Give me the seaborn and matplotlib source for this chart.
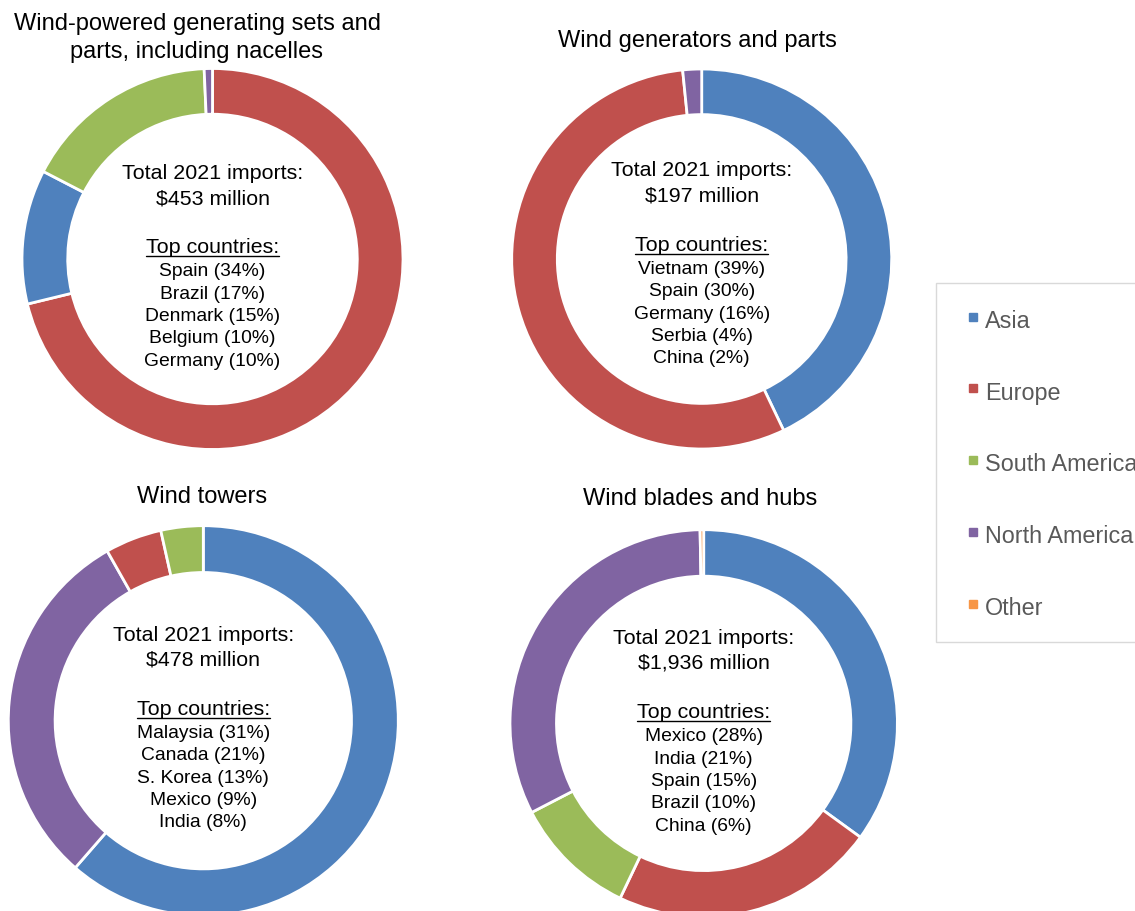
import matplotlib
matplotlib.use("Agg")
import matplotlib.pyplot as plt
import seaborn as sns
from matplotlib.lines import Line2D

# ---- data -------------------------------------------------------------
regions = ["Asia", "Europe", "South America", "North America", "Other"]
region_colors = ["#4F81BD", "#C0504D", "#9BBB59", "#8064A2", "#F79646"]

titles = [
    "Wind-powered generating sets and\nparts, including nacelles",
    "Wind generators and parts",
    "Wind towers",
    "Wind blades and hubs",
]
totals = ["$453 million", "$197 million", "$478 million", "$1,936 million"]

# regional shares (%) of 2021 imports, listed clockwise from 12 o'clock
sets_regions = ["Europe", "Asia", "South America", "North America"]
sets_shares = [71.2, 11.4, 16.7, 0.7]

generators_regions = ["Asia", "Europe", "North America"]
generators_shares = [42.9, 55.5, 1.6]

towers_regions = ["Asia", "North America", "Europe", "South America"]
towers_shares = [61.4, 30.4, 4.7, 3.5]

blades_regions = ["Asia", "Europe", "South America", "North America", "Other"]
blades_shares = [35.0, 22.1, 10.3, 32.3, 0.3]

sets_top = ["Spain (34%)", "Brazil (17%)", "Denmark (15%)",
            "Belgium (10%)", "Germany (10%)"]
generators_top = ["Vietnam (39%)", "Spain (30%)", "Germany (16%)",
                  "Serbia (4%)", "China (2%)"]
towers_top = ["Malaysia (31%)", "Canada (21%)", "S. Korea (13%)",
              "Mexico (9%)", "India (8%)"]
blades_top = ["Mexico (28%)", "India (21%)", "Spain (15%)",
              "Brazil (10%)", "China (6%)"]

# ---- style ------------------------------------------------------------
sns.set_theme(style="white")
plt.rcParams["font.family"] = ["Liberation Sans", "DejaVu Sans"]
palette = dict(zip(regions, sns.color_palette(region_colors)))

W, H = 1135, 912
fig = plt.figure(figsize=(W / 100, H / 100), dpi=100)
fig.patch.set_facecolor("white")


def fx(x):
    return x / W


def fy(y):
    return 1 - y / H


panels = [
    (sets_regions, sets_shares, sets_top),
    (generators_regions, generators_shares, generators_top),
    (towers_regions, towers_shares, towers_top),
    (blades_regions, blades_shares, blades_top),
]

# panel geometry in pixels: ring centre, outer radius, title centre, text shift
centers = [(212.5, 260.0), (701.7, 260.0), (203.3, 721.7), (703.7, 724.4)]
radii = [190.5, 190.0, 195.0, 193.7]
title_pos = [(197.0, 38.0), (697.5, 40.7), (202.5, 496.7), (700.0, 499.0)]
text_shift = [0.0, -2.5, 0.0, 0.5]

head_offsets = [-86.5, -61.5, -12.0]
line_step = 22.3

underlined = []
for i, ((regs, shares, top), (cx, cy), r) in enumerate(zip(panels, centers, radii)):
    ax = fig.add_axes([fx(cx - r), fy(cy + r), 2 * r / W, 2 * r / H])
    ax.pie(
        shares,
        colors=[palette[g] for g in regs],
        startangle=90,
        counterclock=False,
        radius=1.0,
        wedgeprops=dict(width=0.24, edgecolor="white", linewidth=2.0),
    )
    ax.set_xlim(-1, 1)
    ax.set_ylim(-1, 1)
    ax.set_aspect("equal")
    ax.axis("off")

    tx, ty = title_pos[i]
    fig.text(fx(tx), fy(ty), titles[i], ha="center", va="center",
             fontsize=17, color="black", linespacing=1.32)

    tc = cy + text_shift[i]
    fig.text(fx(cx), fy(tc + head_offsets[0]), "Total 2021 imports:",
             ha="center", va="center", fontsize=15.4, color="black")
    fig.text(fx(cx), fy(tc + head_offsets[1]), totals[i],
             ha="center", va="center", fontsize=15.4, color="black")
    t = fig.text(fx(cx), fy(tc + head_offsets[2]), "Top countries:",
                 ha="center", va="center", fontsize=15.4, color="black")
    underlined.append((t, tc + head_offsets[2] + 9.0))
    for k, line in enumerate(top):
        fig.text(fx(cx), fy(tc + 12.0 + k * line_step), line,
                 ha="center", va="center", fontsize=13.9, color="black")

# underline the "Top countries:" headings
fig.canvas.draw()
renderer = fig.canvas.get_renderer()
for t, uy in underlined:
    bb = t.get_window_extent(renderer)
    fig.add_artist(Line2D([bb.x0 / W, bb.x1 / W], [fy(uy), fy(uy)],
                          transform=fig.transFigure, color="black", linewidth=1.0))

# region legend
handles = [Line2D([], [], marker="s", linestyle="none", markersize=6.3,
                  markerfacecolor=palette[g], markeredgecolor=palette[g])
           for g in regions]
leg = fig.legend(
    handles, regions,
    loc="upper left",
    bbox_to_anchor=(fx(935.7), fy(284.0)),
    bbox_transform=fig.transFigure,
    frameon=True, fancybox=False, shadow=False, framealpha=1.0,
    edgecolor="#D9D9D9",
    fontsize=16.8, labelcolor="#595959",
    borderpad=1.0, handlelength=1.2, handleheight=1.3, handletextpad=-0.08,
    labelspacing=1.98, borderaxespad=0.0,
)
leg.get_frame().set_linewidth(1.0)

fig.savefig("out.png", dpi=100, facecolor="white")
